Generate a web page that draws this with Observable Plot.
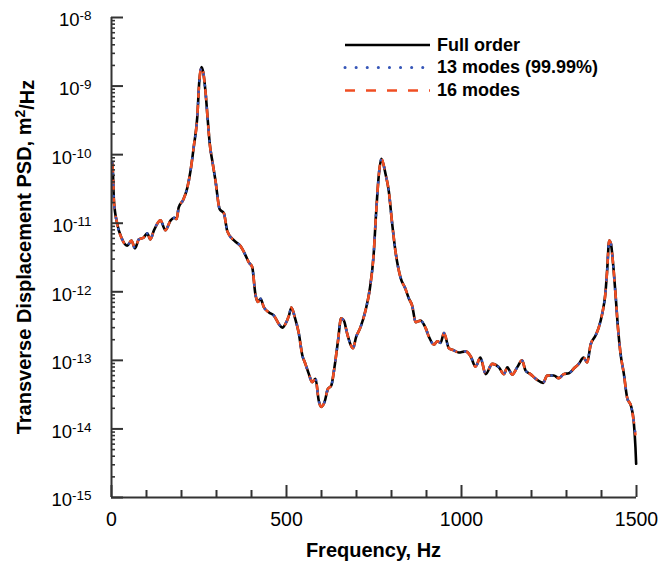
<!DOCTYPE html>
<html>
<head>
<meta charset="utf-8">
<script src="https://cdn.jsdelivr.net/npm/d3@7"></script>
<script src="https://cdn.jsdelivr.net/npm/@observablehq/plot@0.6"></script>
<style>
  body { margin: 0; background: #fff; }
  #chart svg { display: block; }
</style>
</head>
<body>
<div id="chart"></div>
<script>
// ---- Data (frequency in Hz, PSD in m^2/Hz) ----
const freq = [
  2, 4, 7, 16, 30, 45, 57, 67, 78, 92, 102, 111, 121, 140, 154, 169, 180, 186, 192, 205,
  216, 226, 235, 245, 251, 257, 262, 269, 275, 281, 288, 297, 309, 321, 331, 350, 369, 383, 392, 402,
  411, 418, 426, 435, 450, 464, 478, 488, 497, 507, 514, 524, 535, 545, 554, 564, 573, 583, 592, 599,
  609, 618, 628, 637, 647, 656, 664, 673, 683, 690, 699, 711, 726, 738, 749, 756, 764, 771, 778, 783,
  792, 802, 811, 826, 840, 850, 859, 869, 883, 897, 907, 921, 931, 940, 950, 964, 978, 992, 1011, 1026,
  1040, 1054, 1069, 1088, 1107, 1121, 1131, 1145, 1159, 1173, 1183, 1197, 1216, 1233, 1245, 1264, 1278, 1292, 1307, 1321,
  1335, 1349, 1359, 1369, 1383, 1392, 1402, 1411, 1416, 1422, 1427, 1433, 1440, 1447, 1454, 1464, 1473, 1485, 1492, 1497,
  1499
];
const psdFull = [
  7.6e-11, 5.6e-11, 2.1e-11, 1.0e-11, 5.9e-12, 4.7e-12, 5.6e-12, 4.3e-12, 5.8e-12, 6.2e-12, 7.1e-12, 5.8e-12, 7.8e-12, 1.1e-11, 7.9e-12, 1.1e-11, 1.2e-11, 1.15e-11, 1.7e-11, 2.2e-11,
  3.2e-11, 5.9e-11, 1.3e-10, 3.5e-10, 1.2e-9, 1.9e-9, 1.6e-9, 7.8e-10, 3.2e-10, 1.4e-10, 8.1e-11, 4.2e-11, 1.6e-11, 1.4e-11, 7.6e-12, 5.6e-12, 4.6e-12, 3.4e-12, 2.7e-12, 2.3e-12,
  9.3e-13, 7.1e-13, 7.9e-13, 6.0e-13, 5.0e-13, 4.5e-13, 3.4e-13, 3.0e-13, 3.4e-13, 4.5e-13, 5.9e-13, 4.2e-13, 2.5e-13, 1.2e-13, 8.9e-14, 6.3e-14, 4.8e-14, 5.4e-14, 2.6e-14, 2.1e-14,
  2.5e-14, 3.8e-14, 4.3e-14, 7.9e-14, 1.9e-13, 4.1e-13, 3.8e-13, 2.5e-13, 1.7e-13, 1.5e-13, 2.2e-13, 3.0e-13, 5.4e-13, 1.1e-12, 3.5e-12, 1.4e-11, 5.2e-11, 8.7e-11, 6.9e-11, 5.2e-11,
  3.0e-11, 9.8e-12, 4.0e-12, 1.6e-12, 1.1e-12, 7.9e-13, 6.3e-13, 3.6e-13, 3.8e-13, 3.0e-13, 2.2e-13, 1.7e-13, 1.9e-13, 1.8e-13, 2.5e-13, 1.5e-13, 1.4e-13, 1.3e-13, 1.35e-13, 1.15e-13,
  8.1e-14, 1.1e-13, 6.3e-14, 8.9e-14, 7.9e-14, 6.3e-14, 7.9e-14, 6.2e-14, 7.9e-14, 1.0e-13, 7.1e-14, 6.3e-14, 5.2e-14, 4.7e-14, 6.0e-14, 6.0e-14, 5.5e-14, 6.3e-14, 6.5e-14, 7.6e-14,
  8.9e-14, 1.1e-13, 9.3e-14, 1.7e-13, 2.3e-13, 3.0e-13, 4.8e-13, 9.3e-13, 2.0e-12, 5.6e-12, 5.0e-12, 2.6e-12, 9.3e-13, 3.0e-13, 1.3e-13, 6.3e-14, 2.9e-14, 2.1e-14, 1.3e-14, 5.4e-15,
  3.1e-15
];
// The 13-mode and 16-mode curves lie on the full-order curve and stop a bit higher at 1497 Hz
const freqModes = freq.slice(0, -1);
const modesEndValue = 8.3e-15;
const psd13 = [...psdFull.slice(0, -2), modesEndValue];
const psd16 = [...psdFull.slice(0, -2), modesEndValue];

const seriesNames = ["Full order", "13 modes (99.99%)", "16 modes"];
const seriesColors = ["#000000", "#3656b8", "#f04e23"];

const xMajorTicks = [0, 500, 1000, 1500];
const xMinorTicks = [100, 200, 300, 400, 600, 700, 800, 900, 1100, 1200, 1300, 1400];
const yMajorTicks = [1e-15, 1e-14, 1e-13, 1e-12, 1e-11, 1e-10, 1e-9, 1e-8];
const yMinorMultipliers = [2, 3, 4, 5, 6, 7, 8, 9];
const yMinorTicks = yMajorTicks.slice(0, -1).flatMap(d => yMinorMultipliers.map(m => m * d));

const FONT = "'Liberation Sans', Arial, Helvetica, sans-serif";
const AXIS = "#333333";

const svgNode = Plot.plot({
  width: 659,
  height: 566,
  marginLeft: 111,
  marginRight: 23,
  marginTop: 17,
  marginBottom: 69,
  style: { fontFamily: FONT, background: "#fff", color: "#000", overflow: "visible" },
  x: { domain: [0, 1500] },
  y: { type: "log", domain: [1e-15, 1e-8] },
  marks: [
    // data curves
    Plot.line(psdFull, { x: freq, y: psdFull, stroke: seriesColors[0], strokeWidth: 2.6, curve: "monotone-x" }),
    Plot.line(psd16, { x: freqModes, y: psd16, stroke: seriesColors[2], strokeWidth: 2.6, strokeDasharray: "9,9", curve: "monotone-x" }),
    Plot.line(psd13, { x: freqModes, y: psd13, stroke: seriesColors[1], strokeWidth: 2.6, strokeDasharray: "0.1,11", strokeLinecap: "round", curve: "monotone-x" }),
    // axis lines
    Plot.ruleX([0], { stroke: AXIS, strokeWidth: 2 }),
    Plot.ruleY([1e-15], { stroke: AXIS, strokeWidth: 2 }),
    // x ticks (inward)
    Plot.axisX(xMinorTicks, { tickSize: -7, tickFormat: () => "", label: null, stroke: AXIS, strokeWidth: 2 }),
    Plot.axisX(xMajorTicks, { tickSize: -12, tickFormat: () => "", label: null, stroke: AXIS, strokeWidth: 2 }),
    Plot.axisX(xMajorTicks, { tickSize: 0, tickPadding: 15, tickFormat: d => String(d), label: null, fontSize: 19.5, fill: "#000" }),
    // y ticks (inward)
    Plot.axisY(yMinorTicks, { tickSize: -4, tickFormat: () => "", label: null, stroke: AXIS, strokeWidth: 1.6 }),
    Plot.axisY(yMajorTicks, { tickSize: -12, tickFormat: () => "", label: null, stroke: AXIS, strokeWidth: 2 }),
    Plot.axisY(yMajorTicks, { tickSize: 0, tickPadding: 20, tickFormat: d => String(Math.round(Math.log10(d))), label: null, fontSize: 18.5, dy: 3, fill: "#000" })
  ]
});

document.getElementById("chart").appendChild(svgNode);
const svg = d3.select(svgNode);

// remove the empty labels of the tick-only axes
svg.selectAll('g[aria-label="x-axis tick label"] text, g[aria-label="y-axis tick label"] text')
  .filter(function () { return d3.select(this).text() === ""; })
  .remove();

// superscript exponents for y tick labels
svg.selectAll('g[aria-label="y-axis tick label"] text').each(function () {
  const t = d3.select(this);
  const exp = t.text();
  t.text(null);
  t.append("tspan").text("10");
  t.append("tspan").attr("dy", "-0.45em").attr("font-size", 13.5).text(exp);
});

// axis titles
svg.append("text")
  .attr("x", 373.5).attr("y", 557)
  .attr("text-anchor", "middle")
  .attr("font-family", FONT).attr("font-weight", "bold").attr("font-size", 20)
  .attr("fill", "#000")
  .text("Frequency, Hz");

const yTitle = svg.append("text")
  .attr("transform", "translate(31,257) rotate(-90)")
  .attr("text-anchor", "middle")
  .attr("font-family", FONT).attr("font-weight", "bold").attr("font-size", 20)
  .attr("fill", "#000");
yTitle.append("tspan").text("Transverse Displacement PSD, m");
yTitle.append("tspan").attr("dy", "-0.45em").attr("font-size", 14).text("2");
yTitle.append("tspan").attr("dy", "0.45em").text("/Hz");

// legend
const legendRows = [
  { name: seriesNames[0], color: seriesColors[0], dash: null, width: 2.6, cap: "butt", ly: 45, ty: 50.5 },
  { name: seriesNames[1], color: seriesColors[1], dash: "0.1,11", width: 3, cap: "round", ly: 67.5, ty: 73 },
  { name: seriesNames[2], color: seriesColors[2], dash: "10,11", width: 2.6, cap: "butt", ly: 90.5, ty: 96 }
];
const lg = svg.append("g")
  .attr("font-family", FONT).attr("font-weight", "bold").attr("font-size", 18)
  .attr("text-anchor", "start");
legendRows.forEach(r => {
  lg.append("line")
    .attr("x1", 345).attr("x2", 430).attr("y1", r.ly).attr("y2", r.ly)
    .attr("stroke", r.color).attr("stroke-width", r.width)
    .attr("stroke-linecap", r.cap)
    .attr("stroke-dasharray", r.dash);
  lg.append("text").attr("x", 437).attr("y", r.ty).attr("fill", "#000").text(r.name);
});
</script>
</body>
</html>
